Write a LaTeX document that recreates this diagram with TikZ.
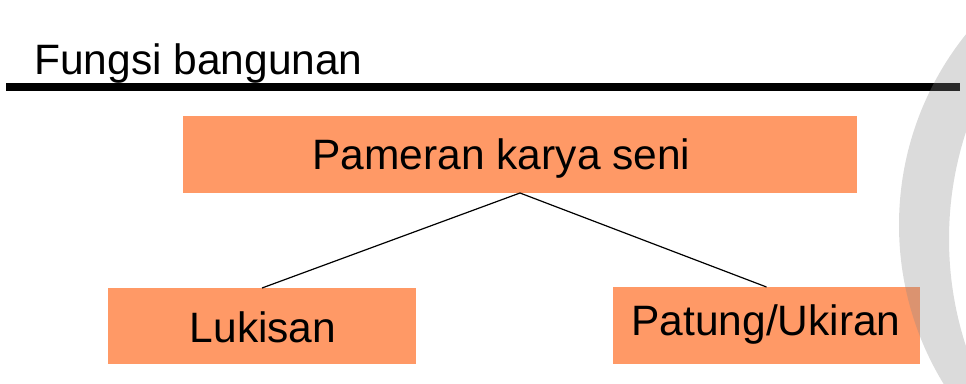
\documentclass[tikz,border=0pt]{standalone}
\usepackage{fontspec}
\setmainfont{Liberation Sans}
\definecolor{boxorange}{RGB}{255,153,102}
\definecolor{ringgray}{RGB}{136,136,136}
\begin{document}
\begin{tikzpicture}[x=1pt,y=-1pt,
  box/.style={draw=none,fill=boxorange,inner sep=0pt,outer sep=0pt},
  txt/.style={anchor=base,inner sep=0pt,font=\fontsize{42.5}{50}\selectfont},
  conn/.style={draw=black,line width=1.2pt}]
\useasboundingbox (0,0) rectangle (966,383);
% title and rule
\node[txt,anchor=base west] (title) at (34,74) {Fungsi bangunan};
\draw[line width=8pt,black] (6,87) -- (960,87);
% boxes
\node[box,minimum width=674pt,minimum height=77pt] (top) at (520,154.5) {};
\node[box,minimum width=308pt,minimum height=76pt] (luk) at (262,326) {};
\node[box,minimum width=307pt,minimum height=77pt] (pat) at (766.5,325.5) {};
% texts
\node[txt] (toptxt) at (501.5,169) {Pameran karya seni};
\node[txt] (luktxt) at (263,342) {Lukisan};
\node[txt] (pattxt) at (766,335) {Patung/Ukiran};
% connectors
\draw[conn] (top.south) -- (luk.north);
\draw[conn] (top.south) -- (pat.north);
% decorative ring
\begin{scope}
\clip (0,0) rectangle (966,383);
\fill[ringgray,opacity=0.3,even odd rule] (1204,225) circle (305pt) (1294,239) circle (345pt);
\end{scope}
\end{tikzpicture}
\end{document}
